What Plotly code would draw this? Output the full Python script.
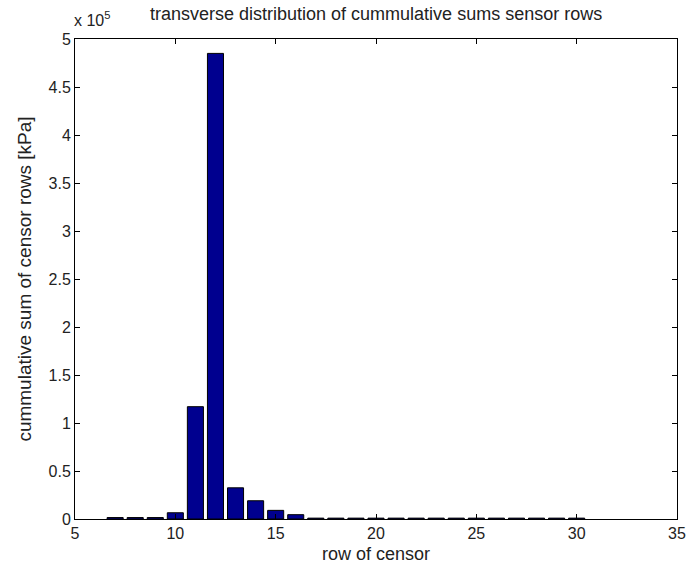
import plotly.graph_objects as go

# Sensor row index and cumulative pressure sum per row [kPa]
rows = list(range(7, 31))
cum_sums = [1500, 1500, 1500, 6500, 117000, 485000, 32500, 19000, 9000, 4500,
            900, 900, 900, 900, 900, 900, 900, 900, 900, 900, 900, 900, 900, 900]

x_ticks = [5, 10, 15, 20, 25, 30, 35]
y_ticks = [0, 50000, 100000, 150000, 200000, 250000, 300000, 350000, 400000, 450000, 500000]
y_tick_text = ["0", "0.5", "1", "1.5", "2", "2.5", "3", "3.5", "4", "4.5", "5"]

FONT = "Liberation Sans, Arial, Helvetica, sans-serif"

fig = go.Figure()
fig.add_trace(go.Bar(
    x=rows, y=cum_sums, width=0.8,
    marker=dict(color="#00008F", line=dict(color="black", width=1)),
))

axis_common = dict(
    showline=True, linecolor="black", linewidth=1, mirror="ticks",
    ticks="inside", ticklen=5, tickcolor="black", tickwidth=1,
    showgrid=False, zeroline=False, ticklabeloverflow="allow",
    tickfont=dict(family=FONT, size=16, color="#222222"),
)

fig.update_layout(
    width=694, height=574,
    margin=dict(l=75, r=8, t=39, b=55),
    paper_bgcolor="white", plot_bgcolor="white",
    showlegend=False,
    font=dict(family=FONT, color="#222222"),
    xaxis=dict(range=[5, 35], tickvals=x_ticks, ticktext=[str(v) for v in x_ticks],
               title=dict(text="row of censor", font=dict(size=18), standoff=6),
               **axis_common),
    yaxis=dict(range=[0, 500000], tickvals=y_ticks, ticktext=y_tick_text,
               title=dict(text="cummulative sum of censor rows [kPa]", font=dict(size=19), standoff=11),
               **axis_common),
    annotations=[
        dict(text="transverse distribution of cummulative sums sensor rows",
             x=0.5, xref="paper", y=1, yref="paper", yanchor="bottom", yshift=13,
             showarrow=False, font=dict(size=18)),
        dict(text="x 10<sup>5</sup>", x=0, xref="paper", y=1, yref="paper",
             xanchor="left", yanchor="bottom", yshift=8, xshift=-3, showarrow=False,
             font=dict(size=16)),
    ],
)

fig.write_html("out.html")
